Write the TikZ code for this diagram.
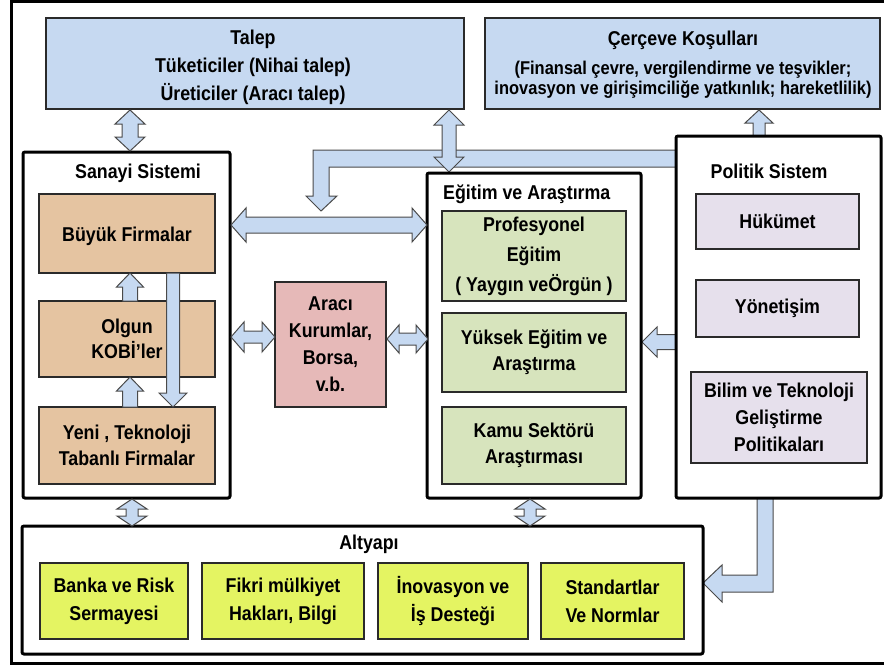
\documentclass[tikz,border=0pt]{standalone}
\usepackage{fontspec}
\setmainfont{Liberation Sans}[FakeStretch=0.89]
\usetikzlibrary{calc}
\definecolor{lblue}{HTML}{C6D9F1}
\definecolor{tan}{HTML}{E5C4A1}
\definecolor{pinkbox}{HTML}{E6B9B8}
\definecolor{greenbox}{HTML}{D7E4BD}
\definecolor{lavbox}{HTML}{E6E0EC}
\definecolor{yelbox}{HTML}{E4F462}
\definecolor{boxline}{HTML}{2A2A2A}
\definecolor{arrline}{HTML}{4A4A4A}
\tikzset{
  txt/.style={font=\fontsize{20}{26}\selectfont\bfseries, align=center, inner sep=0pt},
  innerbox/.style={txt, draw=boxline, line width=1.3pt},
  container/.style={draw=black, line width=3pt, rounded corners=2pt, fill=white},
  fat/.style={fill=lblue, draw=arrline, line width=1pt, line join=miter},
}
% box: name, x1, y1, x2, y2, style, text
\newcommand\bx[7]{\node[#6, minimum width={#4-#2}, minimum height={#5-#3}] (#1) at ({(#2+#4)/2},{(#3+#5)/2}) {#7};}
% vertical double arrow: x, ytop, ybot, shaft half, head half, head length
\newcommand\vdarr[6]{\draw[fat] (#1,#2) -- (#1+#5,#2+#6) -- (#1+#4,#2+#6) -- (#1+#4,#3-#6) -- (#1+#5,#3-#6) -- (#1,#3) -- (#1-#5,#3-#6) -- (#1-#4,#3-#6) -- (#1-#4,#2+#6) -- (#1-#5,#2+#6) -- cycle;}
% horizontal double arrow: y, xleft, xright, shaft half, head half, head length
\newcommand\hdarr[6]{\draw[fat] (#2,#1) -- (#2+#6,#1-#5) -- (#2+#6,#1-#4) -- (#3-#6,#1-#4) -- (#3-#6,#1-#5) -- (#3,#1) -- (#3-#6,#1+#5) -- (#3-#6,#1+#4) -- (#2+#6,#1+#4) -- (#2+#6,#1+#5) -- cycle;}
% up arrow: x, ytip, ybase, shaft half, head half, head length
\newcommand\uarr[6]{\draw[fat] (#1,#2) -- (#1+#5,#2+#6) -- (#1+#4,#2+#6) -- (#1+#4,#3) -- (#1-#4,#3) -- (#1-#4,#2+#6) -- (#1-#5,#2+#6) -- cycle;}
% down arrow: x, ytip, ybase(top), shaft half, head half, head length
\newcommand\darr[6]{\draw[fat] (#1,#2) -- (#1+#5,#2-#6) -- (#1+#4,#2-#6) -- (#1+#4,#3) -- (#1-#4,#3) -- (#1-#4,#2-#6) -- (#1-#5,#2-#6) -- cycle;}
% left arrow: y, xtip, xbase, shaft half, head half, head length
\newcommand\larr[6]{\draw[fat] (#2,#1) -- (#2+#6,#1-#5) -- (#2+#6,#1-#4) -- (#3,#1-#4) -- (#3,#1+#4) -- (#2+#6,#1+#4) -- (#2+#6,#1+#5) -- cycle;}
\begin{document}
\begin{tikzpicture}[x=1pt,y=-1pt]
\useasboundingbox (0,0) rectangle (884,669);
\clip (0,0) rectangle (884,669);
\fill[white] (0,0) rectangle (884,669);
% outer frame
\draw[line width=3pt] (11,2) rectangle (900,663);

% top boxes
\bx{talep}{46}{18}{464}{109}{innerbox, fill=lblue}{}
\node[txt, font=\fontsize{20}{28}\selectfont\bfseries] (talepT) at (253,67) {Talep\\Tüketiciler (Nihai talep)\\Üreticiler (Aracı talep)};
\bx{cerceve}{485}{18}{880}{109}{innerbox, fill=lblue}{}
\node[txt] (cerceveT) at (683,40) {Çerçeve Koşulları};
\node[txt, font=\fontsize{18.5}{20}\selectfont\bfseries] (cerceveS) at (683,80) {(Finansal çevre, vergilendirme ve teşvikler;\\inovasyon ve girişimciliğe yatkınlık; hareketlilik)};

% long L-shaped arrow from Politik Sistem down to the Sanayi-Egitim link
\draw[fat] (680,150) -- (313,150) -- (313,196) -- (306,196) -- (321,211) -- (337,196) -- (329,196) -- (329,167) -- (680,167);
% Talep <-> Egitim
\vdarr{449}{110}{172}{7}{15}{15}
% Politik -> Altyapi
\draw[fat] (757,494) -- (757,575) -- (722,575) -- (722,565) -- (703,583) -- (722,602) -- (722,592) -- (773,592) -- (773,494);
% Politik -> Cerceve
\uarr{759}{110}{140}{6}{14}{13}
% Politik -> Egitim
\larr{342}{642}{680}{7.5}{15}{15}

% containers
\bx{sanayi}{23}{152}{230}{498}{container}{}
\bx{egitim}{427}{173}{641}{498}{container}{}
\bx{politik}{676}{136}{881}{498}{container}{}
\bx{altyapi}{22}{526}{703}{654}{container}{}

\node[txt] (sanayiT) at (138,173) {Sanayi Sistemi};
\node[txt, anchor=west] (egitimT) at (443,194) {Eğitim ve Araştırma};
\node[txt] (politikT) at (769,171) {Politik Sistem};
\node[txt] (altyapiT) at (369,544) {Altyapı};

% Sanayi inner boxes
\bx{buyuk}{39}{194}{215}{273}{innerbox, fill=tan}{}
\node[txt] (buyukT) at (127,236) {Büyük Firmalar};
\bx{olgun}{39}{301}{215}{377}{innerbox, fill=tan, font=\fontsize{20}{25}\selectfont\bfseries}{Olgun\\KOBİ’ler}
\bx{yeni}{39}{407}{215}{484}{innerbox, fill=tan}{Yeni , Teknoloji\\Tabanlı Firmalar}
% Araci
\bx{araci}{275}{282}{386}{407}{innerbox, fill=pinkbox, font=\fontsize{20}{27}\selectfont\bfseries}{Aracı\\Kurumlar,\\Borsa,\\v.b.}
% Egitim inner
\bx{prof}{442}{211}{626}{301}{innerbox, fill=greenbox, font=\fontsize{20}{30}\selectfont\bfseries}{Profesyonel\\Eğitim\\( Yaygın veÖrgün )}
\bx{yuksek}{442}{313}{626}{392}{innerbox, fill=greenbox}{Yüksek Eğitim ve\\Araştırma}
\bx{kamu}{442}{407}{626}{484}{innerbox, fill=greenbox}{Kamu Sektörü\\Araştırması}
% Politik inner
\bx{hukumet}{696}{194}{859}{249}{innerbox, fill=lavbox}{Hükümet}
\bx{yonetisim}{696}{280}{859}{337}{innerbox, fill=lavbox}{Yönetişim}
\bx{bilim}{691}{372}{867}{463}{innerbox, fill=lavbox, font=\fontsize{20}{27}\selectfont\bfseries}{Bilim ve Teknoloji\\Geliştirme\\Politikaları}
% Altyapi inner
\bx{banka}{40}{563}{188}{639}{innerbox, fill=yelbox, font=\fontsize{20}{28}\selectfont\bfseries}{Banka ve Risk\\Sermayesi}
\bx{fikri}{202}{563}{364}{639}{innerbox, fill=yelbox, font=\fontsize{20}{28}\selectfont\bfseries}{Fikri mülkiyet\\Hakları, Bilgi}
\bx{inovasyon}{378}{563}{528}{639}{innerbox, fill=yelbox, font=\fontsize{20}{28}\selectfont\bfseries}{İnovasyon ve\\İş Desteği}
\bx{standart}{541}{563}{684}{639}{innerbox, fill=yelbox, font=\fontsize{20}{28}\selectfont\bfseries}{Standartlar\\Ve Normlar}

% arrows inside Sanayi
\uarr{130}{273}{301}{7.5}{13.5}{14}
\uarr{130}{377}{407}{7.5}{13.5}{14}
\darr{173}{407}{273}{6.5}{14}{14}

% double arrows
\vdarr{130}{110}{151}{8}{15}{14}
\hdarr{225}{231}{427}{8}{17}{15}
\hdarr{337}{231}{275}{6}{15}{13}
\hdarr{339}{387}{428}{6}{14}{12}
\vdarr{132}{499}{526}{6}{15}{10}
\vdarr{530}{499}{526}{6}{15}{10}
\end{tikzpicture}
\end{document}
